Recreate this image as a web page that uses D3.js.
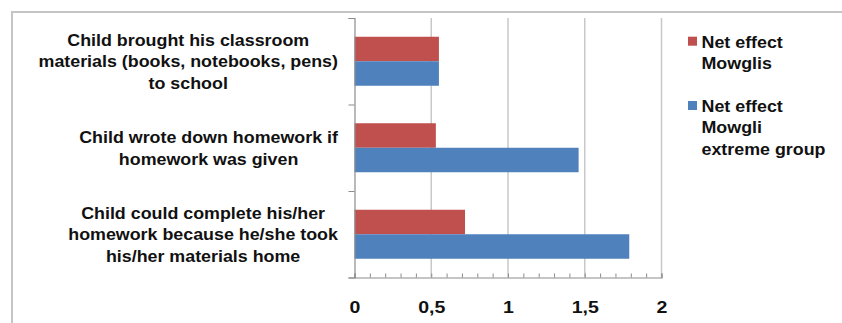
<!DOCTYPE html>
<html>
<head>
<meta charset="utf-8">
<script src="https://cdn.jsdelivr.net/npm/d3@7"></script>
<style>
  html, body { margin: 0; padding: 0; background: #fff; }
  svg { display: block; }
  text { font-family: "Liberation Sans", Arial, sans-serif; fill: #111; }
</style>
</head>
<body>
<script>
// Item labels, one array entry per line
const categories = [
  ["Child brought his classroom", "materials (books, notebooks, pens)", "to school"],
  ["Child wrote down homework if", "homework was given"],
  ["Child could complete his/her", "homework because he/she took", "his/her materials home"]
];
const seriesNames = [["Net effect", "Mowglis"], ["Net effect", "Mowgli", "extreme group"]];
const netEffectMowglis = [0.55, 0.53, 0.72];
const netEffectExtreme = [0.55, 1.46, 1.79];
const xTicks = [0, 0.5, 1, 1.5, 2];
const colors = ["#C0504D", "#4F81BD"];

const W = 842, H = 323;
const textStretch = 1.05;   // slightly wide lettering
const tickStretch = 1.15;
const svg = d3.select("body").append("svg").attr("width", W).attr("height", H);

// chart frame
svg.append("rect")
  .attr("x", 12).attr("y", 12).attr("width", W + 20).attr("height", H + 20)
  .attr("fill", "none").attr("stroke", "#C4C4C4").attr("stroke-width", 2);

const plot = { left: 354.5, right: 661.5, top: 18, bottom: 277.5 };

const x = d3.scaleLinear().domain([0, 2]).range([plot.left, plot.right]);
const y = d3.scaleBand().domain(d3.range(categories.length))
  .range([plot.top, plot.bottom]).paddingInner(0).paddingOuter(0);
const ySub = d3.scaleBand().domain([0, 1]).range([0, y.bandwidth()])
  .paddingInner(0).paddingOuter(0.765);

const comma = d3.formatLocale({ decimal: ",", thousands: ".", grouping: [3], currency: ["", ""] }).format("~g");

// vertical gridlines
svg.append("g").selectAll("line")
  .data(xTicks.filter(d => d > 0))
  .join("line")
  .attr("x1", d => x(d)).attr("x2", d => x(d))
  .attr("y1", plot.top).attr("y2", plot.bottom)
  .attr("stroke", "#C8C8C8").attr("stroke-width", 1.5);

// bars
const rows = d3.range(categories.length).map(i => [netEffectMowglis[i], netEffectExtreme[i]]);
const groups = svg.append("g").selectAll("g")
  .data(rows).join("g")
  .attr("transform", (d, i) => `translate(0,${y(i)})`);
groups.selectAll("rect")
  .data(d => d)
  .join("rect")
  .attr("x", x(0))
  .attr("y", (d, j) => ySub(j))
  .attr("width", d => x(d) - x(0))
  .attr("height", ySub.bandwidth())
  .attr("fill", (d, j) => colors[j]);

// x axis line with minor ticks every 0.1
const xAxis = svg.append("g").attr("transform", `translate(0,${plot.bottom})`);
xAxis.call(d3.axisBottom(x).tickValues(d3.range(0, 2.0001, 0.1)).tickSize(-4).tickFormat(""));
xAxis.select(".domain").attr("stroke", "#8C8C8C").attr("stroke-width", 1.2);
xAxis.selectAll(".tick line").attr("stroke", "#8C8C8C");

// x tick labels
const xLabels = svg.append("g").attr("transform", `translate(0,${plot.bottom})`);
xLabels.call(d3.axisBottom(x).tickValues(xTicks).tickSize(0).tickPadding(0).tickFormat(comma));
xLabels.select(".domain").remove();
xLabels.selectAll("text")
  .attr("dy", null).attr("y", 36)
  .attr("transform", `scale(${tickStretch},1)`)
  .style("font-size", "17px").style("font-weight", "bold")
  .style("font-family", "'Liberation Sans', Arial, sans-serif")
  .attr("fill", "#111");

// y axis with outward ticks at band boundaries
const yAxis = svg.append("g").attr("transform", `translate(${plot.left},0)`);
const yEdge = d3.scaleLinear().domain([0, categories.length]).range([plot.top, plot.bottom]);
yAxis.call(d3.axisLeft(yEdge).ticks(categories.length).tickSize(6).tickFormat(""));
yAxis.select(".domain").attr("stroke", "#8C8C8C").attr("stroke-width", 1.2);
yAxis.selectAll(".tick line").attr("stroke", "#8C8C8C");

// category labels: centred lines, block right edge aligned next to the axis
const labelRight = 338;
const lineH = 21.6;
categories.forEach((lines, i) => {
  const cy = y(i) + y.bandwidth() / 2;
  const g = svg.append("g");
  const texts = g.selectAll("text").data(lines).join("text")
    .attr("text-anchor", "middle")
    .attr("dy", "0.35em")
    .style("font-size", "17px").style("font-weight", "bold")
    .text(d => d);
  const maxW = d3.max(texts.nodes(), n => n.getComputedTextLength()) * textStretch;
  const cx = labelRight - maxW / 2;
  texts.attr("transform", (d, k) =>
    `translate(${cx},${cy + (k - (lines.length - 1) / 2) * lineH}) scale(${textStretch},1)`);
});

// legend
const legend = svg.append("g");
const legendTop = [41.7, 106];
seriesNames.forEach((lines, j) => {
  legend.append("rect")
    .attr("x", 688).attr("y", legendTop[j] - 5).attr("width", 9).attr("height", 9)
    .attr("fill", colors[j]);
  legend.selectAll(null).data(lines).join("text")
    .attr("transform", (d, k) => `translate(701.5,${legendTop[j] + k * 21.5}) scale(${textStretch},1)`)
    .attr("dy", "0.35em")
    .style("font-size", "17px").style("font-weight", "bold")
    .text(d => d);
});
</script>
</body>
</html>
